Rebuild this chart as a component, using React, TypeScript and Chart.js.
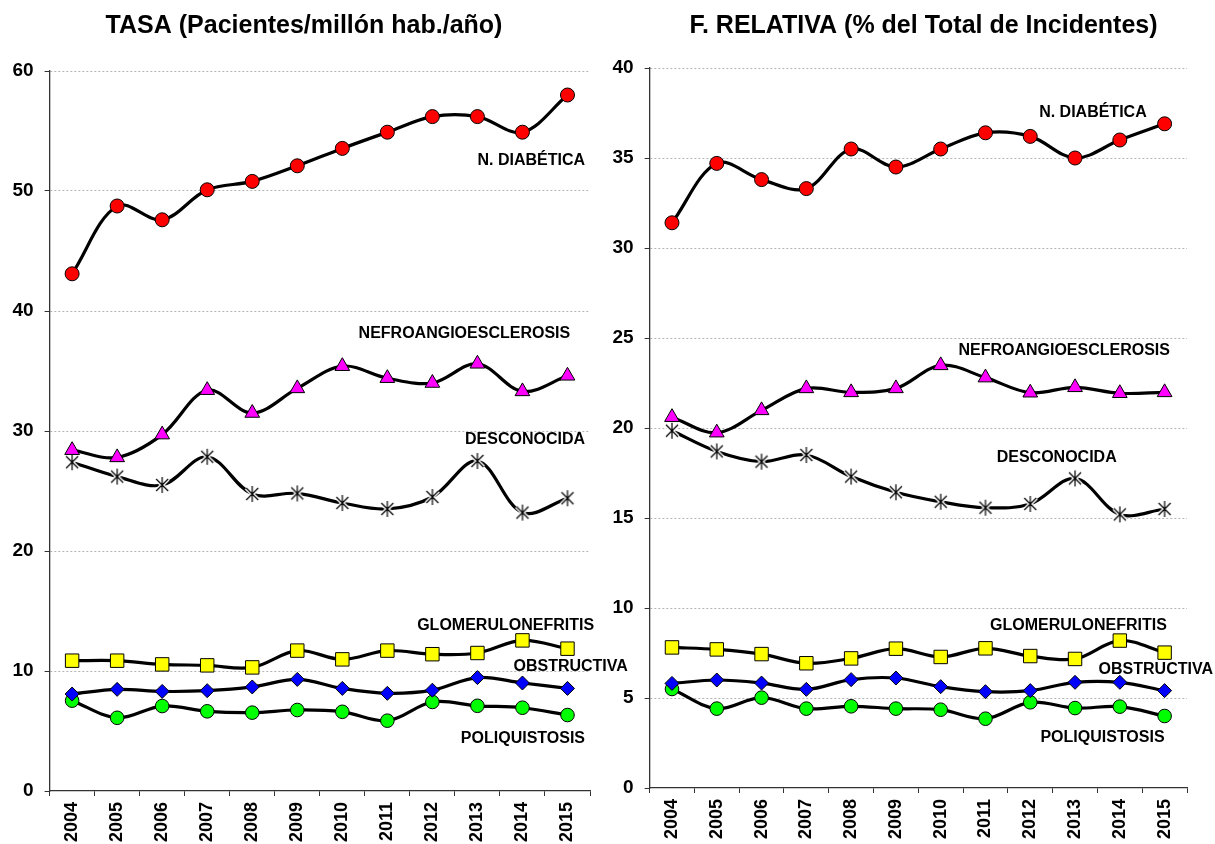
import React, { useEffect, useRef } from 'react';
import { Chart, registerables } from 'chart.js';

Chart.register(...registerables);

const FONT = '"Liberation Sans", Arial, Helvetica, sans-serif';

// ---------- data ----------
const years = ['2004', '2005', '2006', '2007', '2008', '2009', '2010', '2011', '2012', '2013', '2014', '2015'];

const seriesNames = ['N. DIABÉTICA', 'NEFROANGIOESCLEROSIS', 'DESCONOCIDA', 'GLOMERULONEFRITIS', 'OBSTRUCTIVA', 'POLIQUISTOSIS'];

// TASA (Pacientes/millón hab./año)
const tasaDiabetica = [43.1, 48.75, 47.6, 50.1, 50.8, 52.1, 53.55, 54.9, 56.2, 56.2, 54.9, 58.0];
const tasaNefro = [28.4, 27.8, 29.7, 33.4, 31.5, 33.55, 35.4, 34.4, 34.0, 35.6, 33.3, 34.6];
const tasaDesconocida = [27.4, 26.2, 25.5, 27.85, 24.75, 24.8, 24.0, 23.5, 24.5, 27.5, 23.2, 24.4];
const tasaGlomerulo = [10.86, 10.86, 10.55, 10.47, 10.3, 11.7, 10.97, 11.7, 11.4, 11.5, 12.55, 11.86];
const tasaObstructiva = [8.08, 8.47, 8.3, 8.36, 8.67, 9.3, 8.55, 8.14, 8.4, 9.45, 9.0, 8.55];
const tasaPoliquistosis = [7.53, 6.1, 7.08, 6.64, 6.53, 6.75, 6.6, 5.86, 7.42, 7.1, 6.94, 6.33];

// F. RELATIVA (% del Total de Incidentes)
const relDiabetica = [31.4, 34.7, 33.8, 33.3, 35.5, 34.5, 35.5, 36.4, 36.2, 35.0, 36.0, 36.9];
const relNefro = [20.6, 19.74, 20.98, 22.2, 21.98, 22.2, 23.48, 22.8, 21.96, 22.26, 21.93, 21.98];
const relDesconocida = [19.85, 18.7, 18.13, 18.5, 17.3, 16.43, 15.9, 15.57, 15.78, 17.2, 15.2, 15.5];
const relGlomerulo = [7.81, 7.7, 7.44, 6.93, 7.2, 7.74, 7.28, 7.76, 7.33, 7.17, 8.19, 7.52];
const relObstructiva = [5.81, 6.0, 5.83, 5.48, 6.02, 6.11, 5.63, 5.35, 5.41, 5.87, 5.87, 5.41];
const relPoliquistosis = [5.5, 4.41, 5.02, 4.41, 4.54, 4.41, 4.35, 3.85, 4.76, 4.44, 4.52, 4.0];

// axis ranges
const tasaAxis = [0, 60, 10];
const relAxis = [0, 40, 5];

// series label anchors (category index, value), right-aligned text
const tasaLabelX = [11.39, 11.06, 11.39, 11.59, 12.34, 11.39];
const tasaLabelY = [52.5, 38.1, 29.25, 13.75, 10.33, 4.33];
const relLabelX = [10.6, 11.12, 9.93, 11.05, 12.08, 11.0];
const relLabelY = [37.5, 24.28, 18.33, 9.0, 6.56, 2.78];

// ---------- helpers ----------
function makeStar(): HTMLCanvasElement {
  const c = document.createElement('canvas');
  c.width = 20;
  c.height = 20;
  const g = c.getContext('2d')!;
  const cx = 10, cy = 10, r = 8, d = 6;
  const path = () => {
    g.beginPath();
    g.moveTo(cx - d, cy - d); g.lineTo(cx + d, cy + d);
    g.moveTo(cx + d, cy - d); g.lineTo(cx - d, cy + d);
    g.moveTo(cx, cy - r); g.lineTo(cx, cy + r);
    g.stroke();
  };
  g.lineCap = 'butt';
  g.strokeStyle = '#ffffff';
  g.lineWidth = 4;
  path();
  g.strokeStyle = '#000000';
  g.lineWidth = 1.2;
  path();
  return c;
}

const labelPlugin = {
  id: 'seriesLabels',
  afterDatasetsDraw(chart: any, _args: any, opts: any) {
    const { ctx } = chart;
    const x = chart.scales.x;
    const y = chart.scales.y;
    ctx.save();
    ctx.fillStyle = '#000';
    ctx.font = `bold 16px ${FONT}`;
    ctx.textAlign = 'right';
    ctx.textBaseline = 'middle';
    seriesNames.forEach((name, i) => {
      ctx.fillText(name, x.getPixelForValue(opts.lx[i]), y.getPixelForValue(opts.ly[i]));
    });
    ctx.font = `bold 25px ${FONT}`;
    ctx.textAlign = 'center';
    ctx.textBaseline = 'alphabetic';
    ctx.fillText(opts.title, opts.titleX, opts.titleY);
    ctx.restore();
  },
};

function buildConfig(
  values: number[][],
  axis: number[],
  lx: number[],
  ly: number[],
  title: string,
  titleX: number,
  pad: { top: number; right: number },
  xHeight: number,
  star: HTMLCanvasElement
): any {
  const styles: any[] = [
    { pointStyle: 'circle', bg: '#ff0000', r: 7 },
    { pointStyle: 'triangle', bg: '#ff00ff', r: 8.5 },
    { pointStyle: star, bg: '#000000', r: 8 },
    { pointStyle: 'rect', bg: '#ffff00', r: 9.5 },
    { pointStyle: 'rectRot', bg: '#0000ff', r: 7 },
    { pointStyle: 'circle', bg: '#00ff00', r: 6.8 },
  ];
  return {
    type: 'line',
    data: {
      labels: years,
      datasets: values.map((v, i) => ({
        label: seriesNames[i],
        data: v,
        borderColor: '#000000',
        borderWidth: 3.2,
        tension: 0.35,
        pointStyle: styles[i].pointStyle,
        pointRadius: styles[i].r,
        pointBackgroundColor: styles[i].bg,
        pointBorderColor: '#000000',
        pointBorderWidth: 1,
        fill: false,
      })),
    },
    options: {
      responsive: false,
      animation: false,
      events: [],
      layout: { padding: { top: pad.top, right: pad.right, bottom: 0, left: 0 } },
      plugins: {
        legend: { display: false },
        tooltip: { enabled: false },
        title: { display: false },
        seriesLabels: { lx, ly, title, titleX, titleY: 33 },
      },
      scales: {
        x: {
          type: 'category',
          offset: true,
          afterFit: (s: any) => { s.height = xHeight; },
          grid: {
            display: true,
            drawOnChartArea: false,
            drawTicks: true,
            offset: true,
            tickLength: 5,
            tickColor: '#333333',
            tickWidth: 1,
          },
          border: { display: true, color: '#333333', width: 1.3 },
          ticks: {
            autoSkip: false,
            minRotation: 90,
            maxRotation: 90,
            padding: 6,
            color: '#000000',
            font: { family: FONT, size: 18, weight: 'bold' },
          },
        },
        y: {
          min: axis[0],
          max: axis[1],
          afterFit: (s: any) => { s.width = 49.6; },
          grid: {
            display: true,
            drawOnChartArea: true,
            drawTicks: true,
            tickLength: 5,
            color: (c: any) => (c.tick && c.tick.value === 0 ? 'rgba(0,0,0,0)' : '#b4b4b4'),
            tickColor: '#333333',
            tickWidth: 1,
            tickBorderDash: [],
            lineWidth: 1,
          },
          border: { display: true, color: '#333333', width: 1.3, dash: [2, 2] },
          ticks: {
            stepSize: axis[2],
            padding: 11,
            color: '#000000',
            font: { family: FONT, size: 19, weight: 'bold' },
          },
        },
      },
    },
    plugins: [labelPlugin],
  };
}

export default function App() {
  const leftRef = useRef<HTMLCanvasElement>(null);
  const rightRef = useRef<HTMLCanvasElement>(null);

  useEffect(() => {
    const star = makeStar();
    const left = new Chart(
      leftRef.current!,
      buildConfig(
        [tasaDiabetica, tasaNefro, tasaDesconocida, tasaGlomerulo, tasaObstructiva, tasaPoliquistosis],
        tasaAxis,
        tasaLabelX,
        tasaLabelY,
        'TASA (Pacientes/millón hab./año)',
        304,
        { top: 71, right: 60 },
        53,
        star
      )
    );
    const right = new Chart(
      rightRef.current!,
      buildConfig(
        [relDiabetica, relNefro, relDesconocida, relGlomerulo, relObstructiva, relPoliquistosis],
        relAxis,
        relLabelX,
        relLabelY,
        'F. RELATIVA (% del Total de Incidentes)',
        323.5,
        { top: 68, right: 28 },
        56,
        star
      )
    );
    return () => {
      left.destroy();
      right.destroy();
    };
  }, []);

  return (
    <div style={{ position: 'absolute', left: 0, top: 0, width: 1215, height: 844, background: '#ffffff', overflow: 'hidden' }}>
      <canvas ref={leftRef} width={650} height={844} style={{ position: 'absolute', left: 0, top: 0, width: 650, height: 844 }} />
      <canvas ref={rightRef} width={615} height={844} style={{ position: 'absolute', left: 600, top: 0, width: 615, height: 844 }} />
    </div>
  );
}
